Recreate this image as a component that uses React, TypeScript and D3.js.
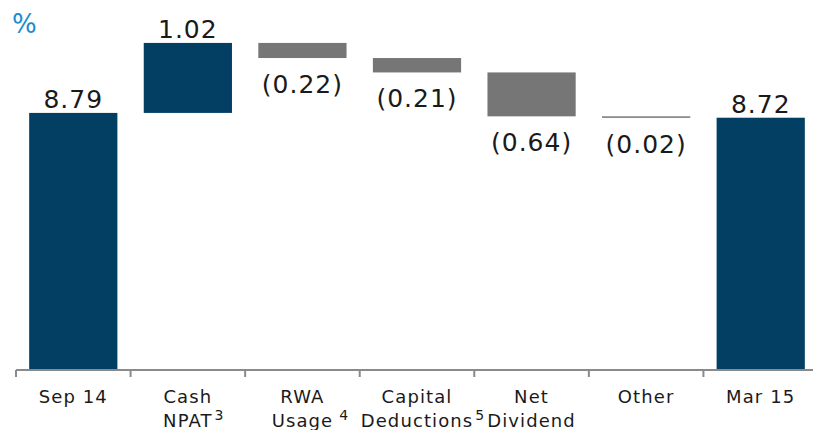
import { useRef, useEffect } from 'react'
import * as d3 from 'd3'

// waterfall steps
const categories = ['Sep 14', 'Cash NPAT', 'RWA Usage', 'Capital Deductions', 'Net Dividend', 'Other', 'Mar 15']
const labelLine1 = ['Sep 14', 'Cash', 'RWA', 'Capital', 'Net', 'Other', 'Mar 15']
const labelLine2 = ['', 'NPAT', 'Usage', 'Deductions', 'Dividend', '', '']
const footnotes = ['', '3', '4', '5', '', '', '']
const values = [8.79, 1.02, -0.22, -0.21, -0.64, -0.02, 8.72]
const isTotal = [true, false, false, false, false, false, true]

const BLUE = '#023f63'
const GREY = '#767676'

const App = () => {
  const chartRef = useRef<SVGSVGElement>(null)

  useEffect(() => {
    if (!chartRef.current) return
    const width = 813
    const height = 430

    const svg = d3.select(chartRef.current)
    svg.selectAll('*').remove()
    svg.attr('width', width).attr('height', height)

    const x = d3
      .scaleBand<string>()
      .domain(categories)
      .range([16, 818])
      .paddingInner(0.23)
      .paddingOuter(0.115)

    const y = d3.scaleLinear().domain([5.05, 10]).range([369.5, 29.9])

    // build start/end of each step
    let running = 0
    const steps = categories.map((c, i) => {
      let start: number
      let end: number
      if (isTotal[i]) {
        start = y.domain()[0]
        end = values[i]
        running = values[i]
      } else {
        start = running
        end = running + values[i]
        running = end
      }
      return { c, i, start, end, v: values[i] }
    })

    const font = "'DejaVu Sans', Verdana, sans-serif"

    svg
      .append('text')
      .attr('x', 12)
      .attr('y', 33)
      .attr('font-family', font)
      .attr('font-size', 26)
      .attr('fill', '#1a8dd0')
      .text('%')

    svg
      .append('g')
      .selectAll('rect')
      .data(steps)
      .enter()
      .append('rect')
      .attr('x', (d) => x(d.c)!)
      .attr('width', x.bandwidth())
      .attr('y', (d) => y(Math.max(d.start, d.end)))
      .attr('height', (d) => Math.max(1.5, Math.abs(y(d.start) - y(d.end))))
      .attr('fill', (d) => (isTotal[d.i] || d.v > 0 ? BLUE : GREY))

    const fmt = d3.format('.2f')
    svg
      .append('g')
      .selectAll('text')
      .data(steps)
      .enter()
      .append('text')
      .attr('x', (d) => x(d.c)! + x.bandwidth() / 2)
      .attr('y', (d) =>
        d.v >= 0 ? y(Math.max(d.start, d.end)) - 5 : y(Math.min(d.start, d.end)) + 35
      )
      .attr('text-anchor', 'middle')
      .attr('font-family', font)
      .attr('font-size', 25)
      .attr('letter-spacing', 1)
      .attr('fill', '#1a1a1a')
      .text((d) => (d.v < 0 ? `(${fmt(-d.v)})` : fmt(d.v)))

    // axis
    const axisY = 370
    const step = x.step()
    svg
      .append('line')
      .attr('x1', 16)
      .attr('x2', width)
      .attr('y1', axisY)
      .attr('y2', axisY)
      .attr('stroke', '#8a8a8a')
      .attr('stroke-width', 2)
    svg
      .append('g')
      .selectAll('line')
      .data(d3.range(categories.length + 1))
      .enter()
      .append('line')
      .attr('x1', (i) => 16 + i * step)
      .attr('x2', (i) => 16 + i * step)
      .attr('y1', axisY)
      .attr('y2', axisY + 7)
      .attr('stroke', '#8a8a8a')
      .attr('stroke-width', 2)

    const labels = svg.append('g').attr('font-family', font).attr('fill', '#1a1a1a')
    categories.forEach((c, i) => {
      const cx = x(c)! + x.bandwidth() / 2
      labels
        .append('text')
        .attr('x', cx)
        .attr('y', 403)
        .attr('text-anchor', 'middle')
        .attr('font-size', 18)
        .attr('letter-spacing', 1.1)
        .text(labelLine1[i])
      if (labelLine2[i]) {
        const t = labels
          .append('text')
          .attr('x', cx)
          .attr('y', 427)
          .attr('text-anchor', 'middle')
          .attr('font-size', 18)
          .attr('letter-spacing', 1.1)
          .text(labelLine2[i])
        if (footnotes[i]) {
          const w = (t.node() as SVGTextElement).getComputedTextLength()
          labels
            .append('text')
            .attr('x', cx + w / 2 + (i === 2 ? 6 : 2))
            .attr('y', 420)
            .attr('font-size', 14)
            .text(footnotes[i])
        }
      }
    })
  }, [])

  return (
    <svg
      ref={chartRef}
      style={{ position: 'absolute', left: 0, top: 0, display: 'block' }}
    />
  )
}

export default App
